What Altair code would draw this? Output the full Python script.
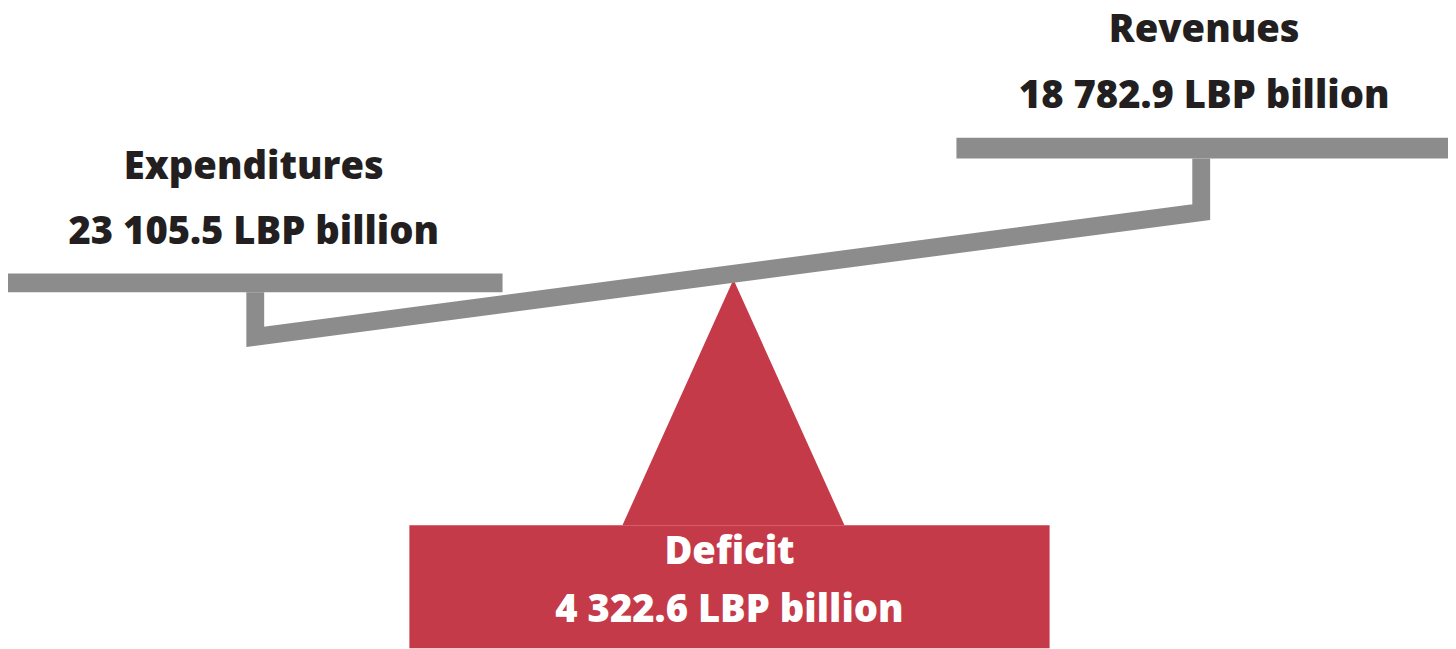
import altair as alt
import pandas as pd

# ---- data ----
categories = ["Expenditures", "Revenues", "Deficit"]
values = [23105.5, 18782.9, 4322.6]
unit = "LBP billion"

def fmt(v):
    return f"{v:,.1f}".replace(",", " ") + " " + unit

# ---- diagram layout (page pixel coordinates) ----
label_x = [251, 1210, 731]
title_y = [174, 35, 562]
value_y = [239, 102, 621]
label_color = ["#231f20", "#231f20", "#ffffff"]

GRAY = "#8c8c8c"
RED = "#c53a49"

X = alt.Scale(domain=[8, 1448], nice=False, zero=False)
Y = alt.Scale(domain=[641, 8], nice=False, zero=False)
noax = None

# platforms (left: expenditures, right: revenues)
platforms = pd.DataFrame({
    "x": [3, 960], "x2": [502, 1456],
    "y": [269, 132], "y2": [288, 153],
})
# lever: left post, beam, right post
lever = pd.DataFrame({
    "o": [0, 1, 2, 3],
    "x": [252.5, 252.5, 1207, 1207],
    "y": [288, 333, 207, 153],
})
# fulcrum triangle
fulcrum = pd.DataFrame({"x": [623, 735, 847], "y": [523, 275, 523], "y2": [523, 523, 523]})
# deficit box
box = pd.DataFrame({"x": [408], "x2": [1054], "y": [523], "y2": [647]})

rows = []
for c, v, lx, ty, vy, col in zip(categories, values, label_x, title_y, value_y, label_color):
    rows.append({"x": lx, "y": ty, "t": c, "col": col})
    rows.append({"x": lx, "y": vy, "t": fmt(v), "col": col})
labels = pd.DataFrame(rows)

enc_x = lambda f="x": alt.X(f"{f}:Q", scale=X, axis=noax)
enc_y = lambda f="y": alt.Y(f"{f}:Q", scale=Y, axis=noax)

plat = alt.Chart(platforms).mark_rect(color=GRAY).encode(
    x=enc_x(), x2="x2:Q", y=enc_y(), y2="y2:Q")

lev = alt.Chart(lever).mark_line(color=GRAY, strokeWidth=18, strokeJoin="miter",
                                 strokeCap="butt", strokeMiterLimit=10).encode(
    x=enc_x(), y=enc_y(), order="o:Q")

tri = alt.Chart(fulcrum).mark_area(color=RED, opacity=1).encode(
    x=enc_x(), y=enc_y(), y2="y2:Q")

bx = alt.Chart(box).mark_rect(color=RED).encode(
    x=enc_x(), x2="x2:Q", y=enc_y(), y2="y2:Q")

txt = alt.Chart(labels).mark_text(font="Open Sans", fontWeight=800, fontSize=38.5,
                                  align="center", baseline="alphabetic").encode(
    x=enc_x(), y=enc_y(), text="t:N",
    color=alt.Color("col:N", scale=None))

chart = alt.layer(tri, bx, lev, plat, txt).properties(
    width=1440, height=633, padding=0, background="white"
).configure_view(stroke="transparent", strokeWidth=0)

chart.save("out.html", embed_options={"renderer": "svg", "actions": False})
